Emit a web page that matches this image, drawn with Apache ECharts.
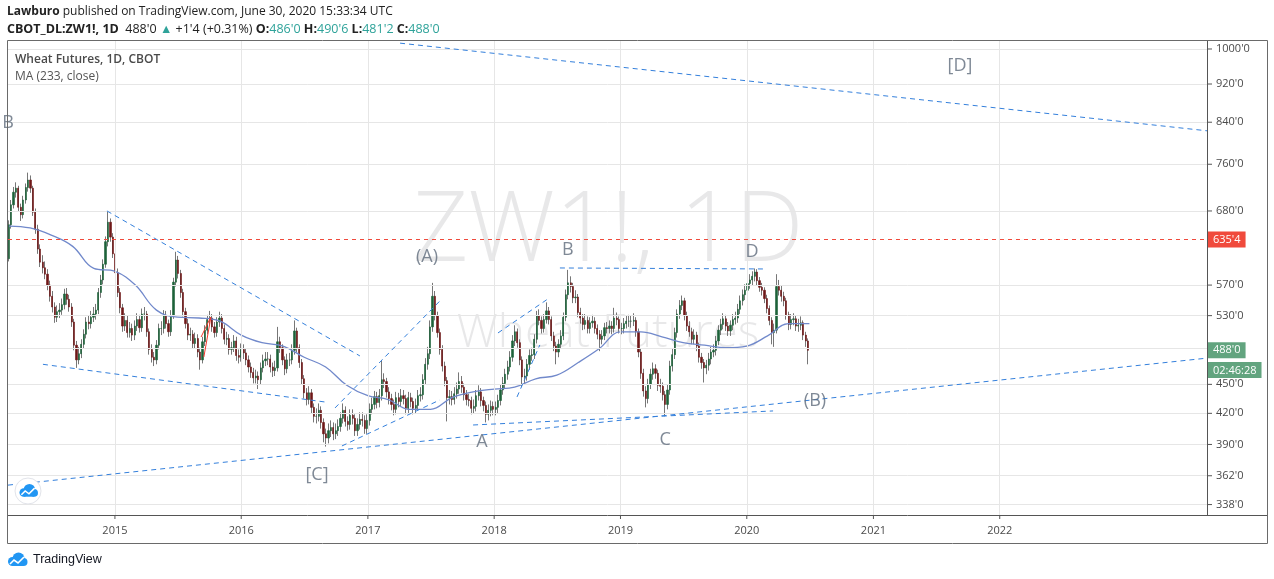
<!DOCTYPE html>
<html><head><meta charset="utf-8">
<script src="https://cdn.jsdelivr.net/npm/echarts@6/dist/echarts.min.js"></script>
<style>html,body{margin:0;padding:0;background:#fff;}#c{width:1274px;height:579px;}</style>
</head><body><div id="c"></div>
<script>
// ---------- DATA ----------
const weekStart = '2014-02-21';
const firstOpen = 600;
const weeklyClose = [
607,658,690,711,718,686,674,698,719,732,
718,678,651,621,602,594,585,570,555,541,
528,535,537,544,558,551,541,522,494,477,
484,495,507,522,520,528,532,537,560,577,
599,632,662,639,614,587,560,540,517,524,
509,514,506,517,525,515,532,532,510,489,
480,477,494,514,514,530,520,510,530,574,
605,586,560,535,520,506,507,496,502,486,
477,498,512,525,527,516,509,522,527,514,
501,502,489,491,499,482,480,489,485,477,
469,463,457,459,455,468,476,478,478,469,
465,468,498,491,477,467,477,477,488,511,
491,474,456,441,434,441,426,417,417,423,
411,400,396,403,406,400,403,407,415,423,
412,409,418,415,403,409,414,413,405,413,
424,429,437,431,438,455,453,442,435,429,
424,436,432,438,435,425,436,432,425,428,
438,439,455,472,484,516,555,530,509,489,
470,454,436,437,434,440,445,453,447,439,
434,433,425,427,438,442,433,428,419,423,
427,424,426,433,444,451,461,469,480,499,
510,497,477,458,459,472,482,483,501,530,
524,514,525,536,525,505,493,486,495,505,
528,557,573,568,553,554,534,527,519,524,
514,521,523,514,507,501,505,515,514,517,
514,527,525,514,514,520,523,523,523,524,
510,486,462,443,435,450,461,467,462,449,
448,439,429,444,470,483,509,532,543,549,
530,517,510,501,506,493,480,474,468,471,
478,486,488,499,512,519,526,517,511,518,
525,527,538,549,557,563,572,577,582,588,
576,567,563,552,539,524,509,512,568,563,
555,549,531,519,525,526,517,518,521,506,
499,488];
const weeklyHigh = [
618,665,698,720,728,722,692,705,726,745,
740,722,684,658,628,612,603,592,576,562,
547,543,546,552,565,566,557,546,526,499,
492,501,513,528,530,536,541,545,566,584,
606,640,680,668,645,620,593,566,545,533,
530,522,520,524,533,531,539,541,536,514,
495,486,500,520,523,537,536,525,537,580,
617,611,591,565,540,526,515,512,509,507,
491,504,518,531,536,532,522,528,535,532,
519,510,507,498,506,504,489,496,495,490,
482,474,468,466,464,474,483,486,486,483,
474,476,516,504,495,481,484,485,495,524,
515,495,478,460,446,448,445,430,425,430,
427,415,405,410,413,411,410,414,421,430,
427,417,424,424,419,415,421,421,418,419,
430,436,443,442,445,477,462,457,447,440,
434,442,441,445,444,439,442,441,436,435,
444,447,461,479,492,524,573,562,535,514,
494,475,458,444,443,447,452,463,459,451,
444,440,437,434,444,449,446,437,432,429,
433,432,432,439,450,458,467,476,487,506,
518,514,501,481,467,478,489,491,507,536,
538,529,532,547,541,529,510,498,501,512,
534,564,591,582,573,563,558,540,532,532,
529,528,531,528,519,512,512,521,522,524,
523,540,534,529,521,527,530,531,530,533,
528,514,490,467,448,456,467,474,472,466,
456,452,443,450,476,490,515,538,550,556,
553,535,523,515,513,510,497,485,478,477,
485,492,495,505,518,526,533,531,522,524,
532,535,545,556,564,571,579,585,589,593,
592,581,573,567,557,543,528,520,585,577,
569,561,553,535,532,533,530,526,529,524,
510,502];
const weeklyLow = [
592,603,652,684,702,680,664,668,692,712,
710,672,644,614,595,586,578,563,548,534,
521,522,527,531,538,544,535,516,488,468,
472,479,490,502,513,514,522,525,532,553,
571,594,625,632,608,580,554,533,510,511,
503,503,499,500,511,509,510,524,504,483,
474,470,472,489,506,508,514,504,505,526,
568,579,553,529,514,500,499,490,490,480,
466,473,493,507,519,510,503,504,516,508,
495,494,483,483,486,476,473,475,478,471,
463,457,451,451,445,450,463,470,471,463,
458,459,464,485,471,460,462,470,472,483,
486,468,450,435,428,429,420,411,410,412,
405,392,388,391,397,394,395,398,402,410,
407,403,404,409,398,398,404,407,400,400,
408,419,424,425,426,433,446,436,429,423,
418,419,426,427,429,419,420,426,419,420,
423,432,434,450,466,478,510,524,503,483,
464,448,412,429,428,429,435,440,441,433,
428,427,419,420,422,433,427,422,411,413,
417,418,418,420,428,439,446,455,464,475,
493,491,471,447,451,454,466,476,478,496,
518,508,509,520,519,499,487,472,480,490,
500,523,551,560,546,546,528,520,512,513,
508,508,515,508,501,487,495,500,508,508,
507,509,518,508,507,508,514,516,515,517,
504,480,456,437,426,430,445,455,456,443,
441,433,417,424,439,464,478,503,526,537,
524,511,504,495,495,487,474,467,452,461,
465,472,480,482,494,506,513,511,505,505,
512,519,521,532,543,550,556,565,570,575,
570,561,556,546,533,518,495,492,508,556,
548,542,525,512,513,518,511,510,512,500,
492,472];

const maDates = ['2014-03-01','2014-05-01','2014-07-01','2014-09-01','2014-11-01','2015-01-01','2015-03-01','2015-05-01','2015-07-01','2015-09-01','2015-11-01','2016-01-01','2016-03-01','2016-05-01','2016-07-01','2016-09-01','2016-11-01','2017-01-01','2017-03-01','2017-05-01','2017-07-01','2017-09-01','2017-11-01','2018-01-01','2018-03-01','2018-05-01','2018-07-01','2018-09-01','2018-11-01','2019-01-01','2019-03-01','2019-05-01','2019-07-01','2019-09-01','2019-11-01','2020-01-01','2020-03-01','2020-05-01','2020-06-30'];
const maValues = [656,653,642,625,593,589,570,537,528,527,523,506,497,493,480,469,449,438,434,424,424,436,442,445,447,456,460,474,490,510,510,504,497,494,491,493,505,520,520];

const priceTicks = [1000,920,840,760,680,570,530,450,420,390,362,338];
const hiddenTicks = [490];
const yearTicks = ['2015-01-01','2016-01-01','2017-01-01','2018-01-01','2019-01-01','2020-01-01','2021-01-01','2022-01-01'];
const xMin = '2014-02-26', xMax = '2023-08-23';
const yMin = 329.7, yMax = 1019.2;

const priceLineValue = 635.5, priceLineText = "635'4";
const lastPrice = 488, lastPriceText = "488'0", countdownText = '02:46:28';

const lineTopD = [['2017-04-04',1014],['2023-08-23',823]];
const lineBaseB = [['2014-02-26',354],['2023-08-23',479]];
const lineLowerLeft = [['2014-06-07',472],['2016-08-30',431.5]];
const lineUpperLeft = [['2014-12-09',680],['2016-12-09',481.5]];
const lineRiseA1 = [['2016-09-28',425.4],['2017-07-28',548.8]];
const lineRiseA2 = [['2016-10-18',388.6],['2017-07-28',433.6]];
const lineAC = [['2017-11-01',408.5],['2020-03-17',422.4]];
const lineChanUp = [['2018-01-12',508.6],['2018-06-05',551.4]];
const lineChanLow = [['2018-03-08',436.7],['2018-05-13',494.3]];
const lineBD = [['2018-07-10',593.7],['2020-02-17',592.3]];
const redLine1 = [['2015-09-07',503.7],['2015-10-05',528.3]];
const redLine2 = [['2015-09-15',480.3],['2015-10-05',527.1]];

const waveText = ['B','[D]','(A)','B','D','A','C','[C]','(B)'];
const waveDates = ['2014-02-26','2021-09-08','2017-06-21','2018-08-02','2020-01-16','2017-11-27','2019-05-10','2016-08-07','2020-07-16'];
const wavePrices = [838,960,609,620,617,392,394,363,433];

// ---------- BUILD ----------
const [Y0,M0,D0] = weekStart.split('-').map(Number);
const base = Date.UTC(Y0, M0-1, D0);
const weekDate = i => new Date(base + i*7*86400000).toISOString().slice(0,10);
const wickData = weeklyClose.map((c,i)=>{
  const o = i ? weeklyClose[i-1] : firstOpen;
  return [weekDate(i), o, c, weeklyLow[i], weeklyHigh[i]];
});
const bodyData = weeklyClose.map((c,i)=>{
  const o = i ? weeklyClose[i-1] : firstOpen;
  return [weekDate(i), o, c, Math.min(o,c), Math.max(o,c)];
});

const FONT = 'Open Sans';
const TXT = '#4a4a4a';
const BLUE = '#3480dc';
const GREEN_LBL = '#62a47f';
const RED_LBL = '#f04a3c';
const dashed = (data, color) => ({
  type:'line', data, symbol:'none', silent:true, z:5,
  lineStyle:{color: color||BLUE, width:1, type:[5,4]}
});
const solidRed = data => ({type:'line', data, symbol:'none', silent:true, z:5, lineStyle:{color:'#f23a2f', width:1}});

function cloudIcon(cx, cy, s, z){
  return {
    type:'group', x:cx, y:cy, scaleX:s, scaleY:s, silent:true,
    children:[
      {type:'circle', z, shape:{cx:-4.5, cy:1.5, r:4.5}, style:{fill:'#2196f3'}},
      {type:'circle', z, shape:{cx:1.5, cy:-1.5, r:6}, style:{fill:'#2196f3'}},
      {type:'circle', z, shape:{cx:6.5, cy:2, r:4}, style:{fill:'#2196f3'}},
      {type:'rect', z, shape:{x:-4.5, y:1, width:11, height:5}, style:{fill:'#2196f3'}},
      {type:'polyline', z:z+1, shape:{points:[[-7,4],[-3,0],[1,3],[7,-3]]}, style:{stroke:'#fff', lineWidth:1.6, fill:'none'}}
    ]
  };
}

const chart = echarts.init(document.getElementById('c'), null, {renderer:'canvas'});
chart.setOption({
  animation:false,
  backgroundColor:'#ffffff',
  textStyle:{fontFamily:FONT},
  grid:{left:8, top:41, width:1199, height:474, containLabel:false},
  xAxis:{
    type:'time', min:xMin, max:xMax,
    axisLine:{show:true, lineStyle:{color:'#555', width:1}},
    axisTick:{show:false}, axisLabel:{show:false}, splitLine:{show:false}
  },
  yAxis:{
    type:'log', logBase:10, min:yMin, max:yMax, position:'right',
    axisLine:{show:true, lineStyle:{color:'#555', width:1}},
    axisTick:{show:false}, axisLabel:{show:false}, splitLine:{show:false}
  },
  series:[
    { // gridlines + scale labels
      type:'line', data:[], silent:true, z:1,
      markLine:{
        silent:true, symbol:['none','none'], animation:false,
        lineStyle:{color:'#e6e6e6', type:'solid', width:1},
        label:{show:true, position:'end', distance:0,
          formatter: p => '{t|}{v|' + p.value + "'0}",
          rich:{t:{width:5, height:1, backgroundColor:'#555'},
                v:{padding:[0,0,0,4], color:TXT, fontSize:11, fontFamily:FONT}}},
        emphasis:{disabled:true},
        data: priceTicks.map(v=>({yAxis:v}))
          .concat(hiddenTicks.map(v=>({yAxis:v, label:{show:false}})))
          .concat(yearTicks.map(d=>({xAxis:d, label:{show:true, position:'start', distance:0,
            formatter:'{k|}\n{y|' + d.slice(0,4) + '}',
            rich:{k:{width:1, height:4, backgroundColor:'#555'}, y:{color:TXT, fontSize:11, fontFamily:FONT, padding:[6,0,0,0]}}}})))
      }
    },
    { // wicks
      type:'candlestick', name:'wick', data:wickData, barWidth:1, silent:true, z:2,
      itemStyle:{color:'#777', color0:'#777', borderColor:'#777', borderColor0:'#777', borderWidth:1}
    },
    { // bodies
      type:'candlestick', name:'body', data:bodyData, barWidth:1.7, silent:true, z:3,
      itemStyle:{color:'#1d6239', color0:'#6e1818', borderColor:'#1d6239', borderColor0:'#6e1818', borderWidth:0.6}
    },
    { // MA 233
      type:'line', name:'MA', data:maDates.map((d,i)=>[d, maValues[i]]), smooth:0.4, symbol:'none', silent:true, z:4,
      lineStyle:{color:'#7189cb', width:1.3}
    },
    dashed(lineTopD), dashed(lineBaseB), dashed(lineLowerLeft), dashed(lineUpperLeft),
    dashed(lineRiseA1), dashed(lineRiseA2), dashed(lineAC), dashed(lineChanUp),
    dashed(lineChanLow), dashed(lineBD),
    solidRed(redLine1), solidRed(redLine2),
    { // horizontal price line 635'4
      type:'line', data:[], silent:true, z:6,
      markLine:{
        silent:true, symbol:['none','none'], animation:false, emphasis:{disabled:true},
        lineStyle:{color:RED_LBL, type:[4,4], width:1},
        label:{show:true, position:'end', distance:1, formatter:priceLineText, color:'#fff',
          backgroundColor:RED_LBL, padding:[3,5,2,5], fontSize:11, fontFamily:FONT},
        data:[{yAxis:priceLineValue}]
      }
    },
    { // last price label
      type:'line', data:[], silent:true, z:6,
      markLine:{
        silent:true, symbol:['none','none'], animation:false, emphasis:{disabled:true},
        lineStyle:{color:'rgba(0,0,0,0)', width:0},
        label:{show:true, position:'end', distance:1, formatter:lastPriceText, color:'#fff',
          backgroundColor:GREEN_LBL, padding:[3,5,2,5], fontSize:11, fontFamily:FONT},
        data:[{yAxis:lastPrice}]
      }
    },
    { // wave labels
      type:'scatter', symbolSize:0, clip:false, silent:true, z:6,
      data: waveText.map((t,i)=>({name:t, value:[waveDates[i], wavePrices[i]]})),
      label:{show:true, position:'inside', formatter:p=>p.name, color:'#5f6b7c', fontSize:18, fontFamily:FONT}
    }
  ],
  graphic:[
    {type:'text', x:608, y:233, z:0, silent:true, style:{text:'ZW1!, 1D', fill:'rgba(110,112,120,0.16)', font:'300 97px "Open Sans"', textAlign:'center', textVerticalAlign:'middle'}},
    {type:'text', x:608, y:334, z:0, silent:true, style:{text:'Wheat Futures', fill:'rgba(110,112,120,0.16)', font:'300 46px "Open Sans"', textAlign:'center', textVerticalAlign:'middle'}},
    {type:'rect', z:40, silent:true, shape:{x:7.5, y:40.5, width:1260, height:503}, style:{fill:'none', stroke:'#6a6a6a', lineWidth:1}},
    {type:'line', z:40, silent:true, shape:{x1:1207, y1:515.5, x2:1267, y2:515.5}, style:{stroke:'#555', lineWidth:1}},
    {type:'text', x:7, y:12, z:50, silent:true, style:{
      text:'{b|Lawburo} published on TradingView.com, June 30, 2020 15:33:34 UTC',
      font:'12px "Open Sans"', fill:'#222', textVerticalAlign:'middle',
      rich:{b:{fontWeight:'bold', fontSize:12, fontFamily:FONT, fill:'#222'}}}},
    {type:'text', x:7, y:29, z:50, silent:true, style:{
      text:"{b|CBOT_DL:ZW1!, 1D}  488'0 {g|▲} +1'4 (+0.31%) {b|O:}{g|486'0} {b|H:}{g|490'6} {b|L:}{g|481'2} {b|C:}{g|488'0}",
      font:'12.5px "Open Sans"', fill:'#222', textVerticalAlign:'middle',
      rich:{b:{fontWeight:'bold', fontSize:12.5, fontFamily:FONT, fill:'#222'}, g:{fontSize:12.5, fontFamily:FONT, fill:'#2fa39a'}}}},
    {type:'text', x:15, y:60, z:50, silent:true, style:{text:'Wheat Futures, 1D, CBOT', font:'600 12px "Open Sans"', fill:'#4a4a4a', textVerticalAlign:'middle'}},
    {type:'text', x:15, y:77, z:50, silent:true, style:{text:'MA (233, close)', font:'12px "Open Sans"', fill:'#555', textVerticalAlign:'middle'}},
    {type:'text', x:1208, y:362, z:50, silent:true, style:{text:countdownText, fill:'#fff', font:'11px "Open Sans"', backgroundColor:GREEN_LBL, padding:[3,5,2,5]}},
    {type:'circle', z:45, silent:true, shape:{cx:28, cy:491, r:13}, style:{fill:'#fff', stroke:'#e2e4ea', lineWidth:1}},
    cloudIcon(28, 491, 0.95, 46),
    cloudIcon(17, 560, 1, 46),
    {type:'text', x:33, y:560, z:50, silent:true, style:{text:'TradingView', font:'12.5px "Liberation Sans"', fill:'#131722', textVerticalAlign:'middle'}}
  ]
});
</script>
</body></html>
